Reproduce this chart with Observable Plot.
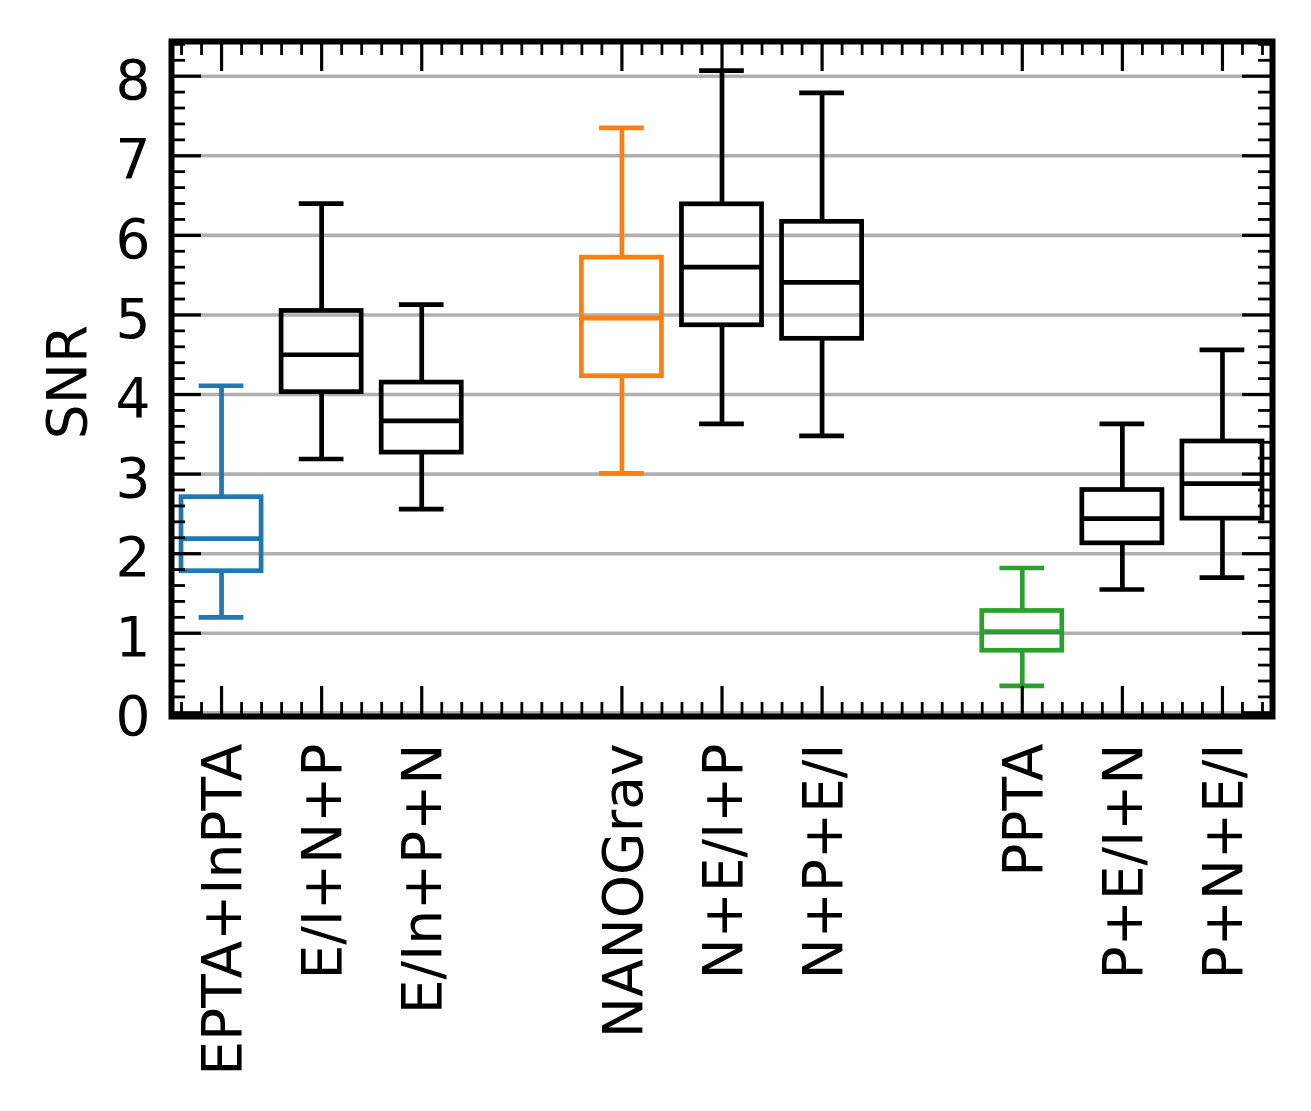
<!DOCTYPE html>
<html>
<head>
<meta charset="utf-8">
<script src="https://cdn.jsdelivr.net/npm/d3@7"></script>
<script src="https://cdn.jsdelivr.net/npm/@observablehq/plot@0.6"></script>
<style>
  html, body { margin: 0; padding: 0; background: #fff; }
</style>
</head>
<body>
<div id="chart"></div>
<script>
// ---- data ----
const labels = ["EPTA+InPTA", "E/I+N+P", "E/In+P+N", "NANOGrav", "N+E/I+P", "N+P+E/I", "PPTA", "P+E/I+N", "P+N+E/I"];
const positions = [1, 2, 3, 5, 6, 7, 9, 10, 11];
const whiskerLow  = [1.20, 3.19, 2.56, 3.01, 3.63, 3.48, 0.34, 1.55, 1.70];
const q1          = [1.78, 4.03, 3.27, 4.23, 4.87, 4.70, 0.78, 2.13, 2.44];
const median      = [2.19, 4.50, 3.67, 4.96, 5.60, 5.41, 1.02, 2.44, 2.88];
const q3          = [2.71, 5.05, 4.15, 5.72, 6.39, 6.17, 1.28, 2.80, 3.41];
const whiskerHigh = [4.11, 6.40, 5.13, 7.35, 8.07, 7.79, 1.82, 3.63, 4.56];
const colors = ["#1f77b4", "#000000", "#000000", "#ff7f0e", "#000000", "#000000", "#2ca02c", "#000000", "#000000"];
const yTickValues = [0, 1, 2, 3, 4, 5, 6, 7, 8];
const yLabel = "SNR";

// ---- layout ----
const W = 1311, H = 1111;
const mL = 171, mR = 39, mT = 41, mB = 395;
const frameW = W - mL - mR, frameH = H - mT - mB;
const boxHalf = 0.4, capHalf = 0.2;
const fontSize = 55;
const font = "DejaVu Sans";
const lw = 4.7;

const rows = labels.map((label, i) => ({
  label, pos: positions[i], lo: whiskerLow[i], q1: q1[i], med: median[i],
  q3: q3[i], hi: whiskerHigh[i], color: colors[i]
}));

const round1 = v => Math.round(v * 10) / 10;
const yMinor = d3.range(0, 8.5, 0.2).map(round1).filter(v => !yTickValues.includes(v));
const xMinor = d3.range(0.6, 11.5, 0.2).map(round1).filter(v => !positions.includes(v));

const majorLen = 30, minorLen = 14;

const chart = Plot.plot({
  width: W, height: H,
  marginLeft: mL, marginRight: mR, marginTop: mT, marginBottom: mB,
  x: {domain: [0.5, 11.5], axis: null},
  y: {domain: [-0.046, 8.436], axis: null},
  color: {type: "identity"},
  style: {fontFamily: font, background: "white", overflow: "visible"},
  marks: [
    // grid
    Plot.ruleY(yTickValues, {y: d => d, stroke: "#b0b0b0", strokeWidth: 3.6}),
    // whiskers
    Plot.ruleX(rows, {x: "pos", y1: "lo", y2: "q1", stroke: "color", strokeWidth: lw}),
    Plot.ruleX(rows, {x: "pos", y1: "q3", y2: "hi", stroke: "color", strokeWidth: lw}),
    // caps
    Plot.ruleY(rows, {y: "lo", x1: d => d.pos - capHalf, x2: d => d.pos + capHalf, stroke: "color", strokeWidth: lw, strokeLinecap: "square"}),
    Plot.ruleY(rows, {y: "hi", x1: d => d.pos - capHalf, x2: d => d.pos + capHalf, stroke: "color", strokeWidth: lw, strokeLinecap: "square"}),
    // boxes
    Plot.rect(rows, {x1: d => d.pos - boxHalf, x2: d => d.pos + boxHalf, y1: "q1", y2: "q3", fill: "none", stroke: "color", strokeWidth: lw, strokeLinejoin: "miter"}),
    // medians
    Plot.ruleY(rows, {y: "med", x1: d => d.pos - boxHalf, x2: d => d.pos + boxHalf, stroke: "color", strokeWidth: lw}),
    // inward ticks: bottom & top
    Plot.tickX(positions, {x: d => d, insetTop: frameH - majorLen, stroke: "black", strokeWidth: 3.2}),
    Plot.tickX(positions, {x: d => d, insetBottom: frameH - majorLen, stroke: "black", strokeWidth: 3.2}),
    Plot.tickX(xMinor, {x: d => d, insetTop: frameH - minorLen, stroke: "black", strokeWidth: 2.8}),
    Plot.tickX(xMinor, {x: d => d, insetBottom: frameH - minorLen, stroke: "black", strokeWidth: 2.8}),
    // inward ticks: left & right
    Plot.tickY(yTickValues, {y: d => d, insetRight: frameW - majorLen, stroke: "black", strokeWidth: 3.2}),
    Plot.tickY(yTickValues, {y: d => d, insetLeft: frameW - majorLen, stroke: "black", strokeWidth: 3.2}),
    Plot.tickY(yMinor, {y: d => d, insetRight: frameW - minorLen, stroke: "black", strokeWidth: 2.8}),
    Plot.tickY(yMinor, {y: d => d, insetLeft: frameW - minorLen, stroke: "black", strokeWidth: 2.8}),
    // frame
    Plot.frame({stroke: "black", strokeWidth: 6}),
    // y tick labels
    Plot.text(yTickValues, {y: d => d, text: d => String(d), frameAnchor: "left", dx: -21, dy: 5,
      textAnchor: "end", lineAnchor: "middle", fontSize, fill: "black"}),
    // x tick labels (rotated)
    Plot.text(rows, {x: "pos", text: "label", frameAnchor: "bottom", dy: 27, dx: 2, rotate: -90,
      textAnchor: "end", lineAnchor: "middle", fontSize, fill: "black"}),
    // y axis label
    Plot.text([yLabel], {text: d => d, frameAnchor: "left", dx: -103, dy: 3, rotate: -90,
      textAnchor: "middle", lineAnchor: "middle", fontSize, fill: "black"})
  ]
});
document.getElementById("chart").appendChild(chart);
</script>
</body>
</html>
